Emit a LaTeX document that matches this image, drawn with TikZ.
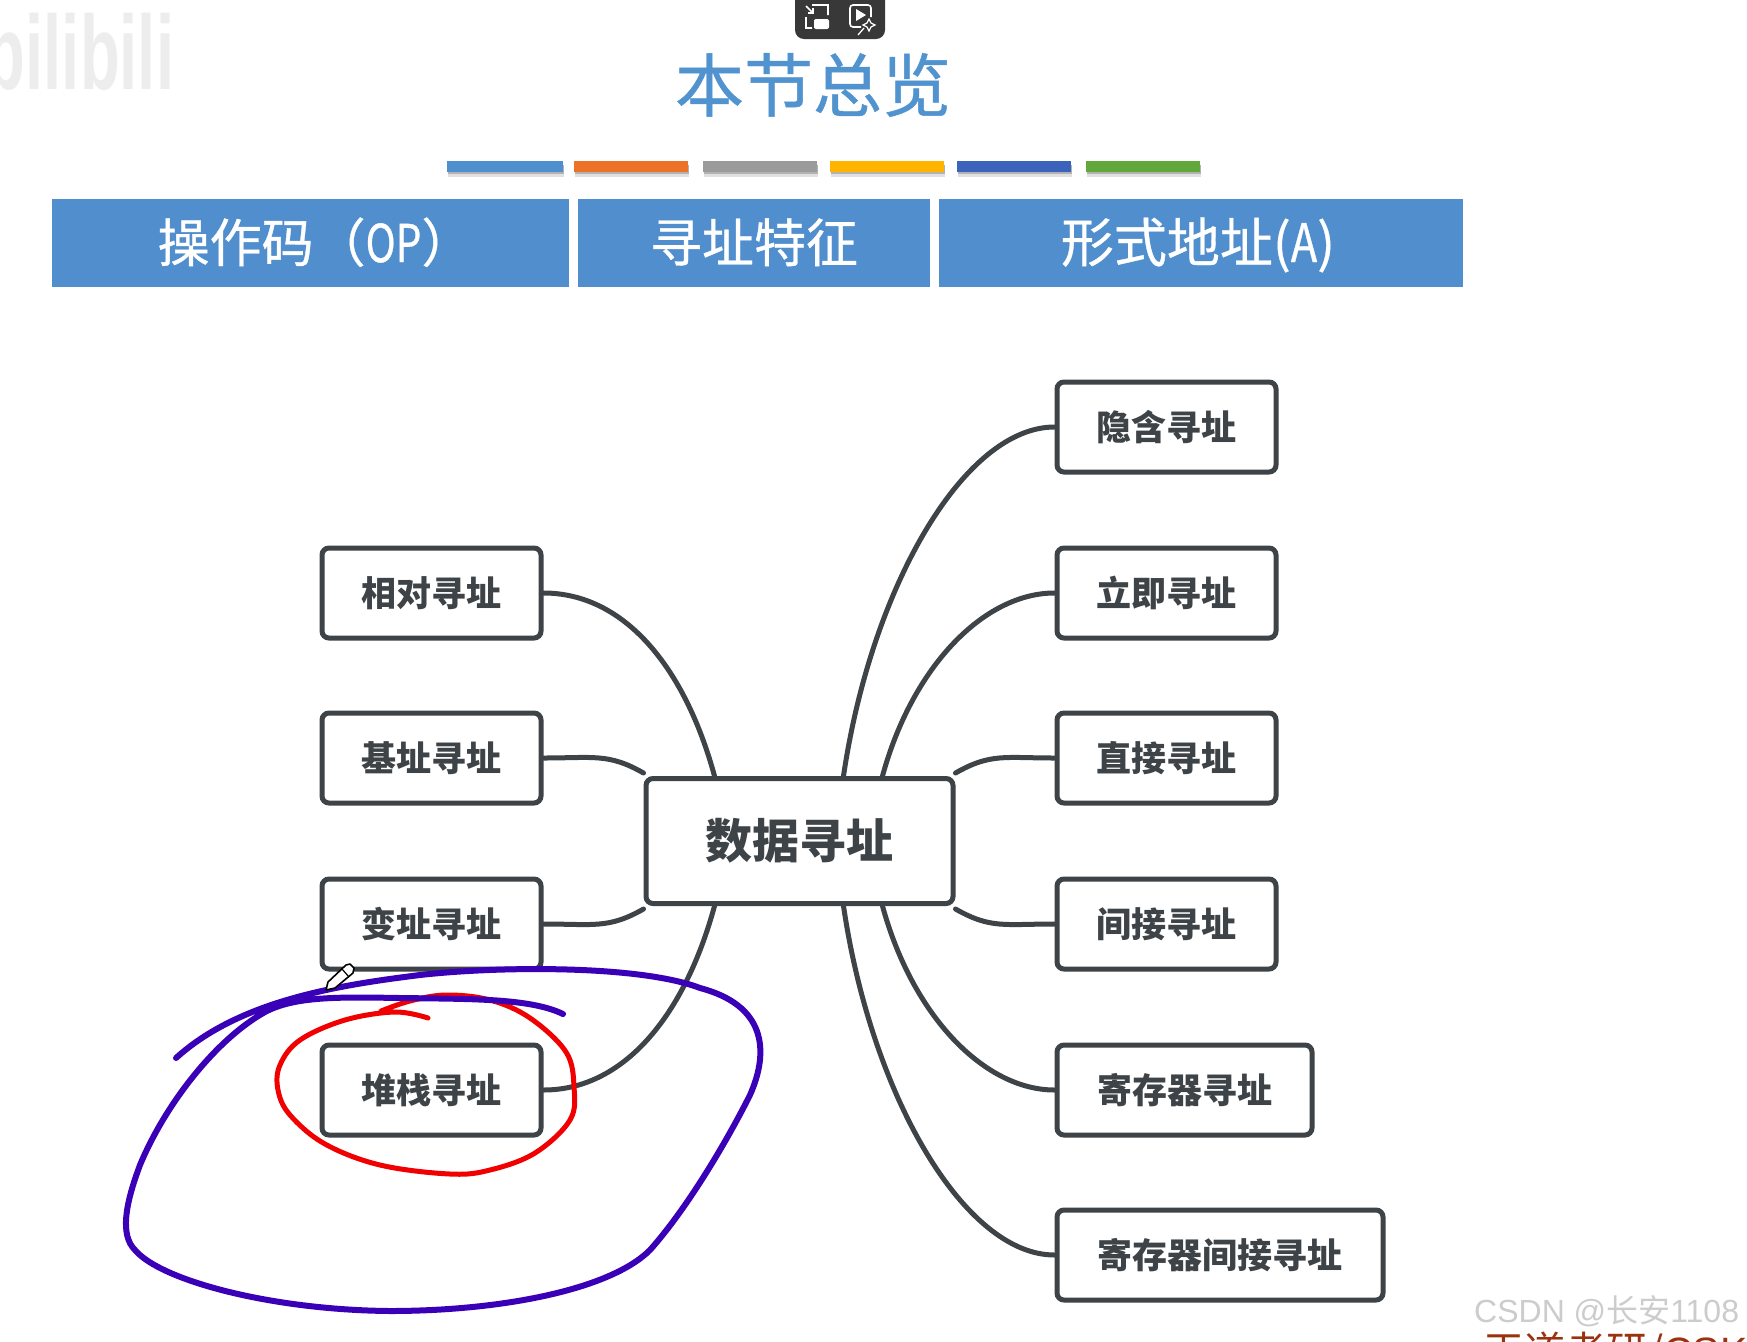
\documentclass[tikz,border=0pt]{standalone}
\usepackage{fontspec}
\setmainfont{Noto Sans CJK SC}
\newfontfamily\latinfont{Liberation Sans}
\newfontfamily\heavycjk[FakeBold=0.7]{Noto Sans CJK SC}
\usetikzlibrary{calc}
\definecolor{hdr}{HTML}{508ECD}
\definecolor{ttl}{HTML}{5193CE}
\definecolor{ink}{HTML}{3D4347}
\definecolor{pen}{HTML}{3A00B8}
\definecolor{redpen}{HTML}{F00000}
\definecolor{brownred}{HTML}{9A3210}
\newcommand{\fsz}[1]{\fontsize{#1}{#1}\selectfont}
\tikzset{
  mapbox/.style={draw=ink,line width=5pt,rounded corners=7pt,fill=white,text=ink,font=\fsz{35}\bfseries,minimum height=90pt,inner sep=0pt,anchor=center},
  hdrbox/.style={fill=hdr,text=white,font=\heavycjk\fsz{52},inner sep=0pt,anchor=center,minimum height=88pt,text height=44pt,text depth=6pt},
  link/.style={draw=ink,line width=5pt,line cap=round},
  barbox/.style={minimum height=11pt,inner sep=0pt,anchor=center,draw=none},
  handblue/.style={draw=pen,line width=6pt,line cap=round,line join=round},
  handred/.style={draw=redpen,line width=5pt,line cap=round,line join=round}
}
\begin{document}
\begin{tikzpicture}[x=1pt,y=-1pt]
\useasboundingbox (0,0) rectangle (1747,1341);
\clip (0,0) rectangle (1747,1341);
\fill[white] (0,0) rectangle (1747,1341);
% watermark
\node (bili) [text=black!7,inner sep=0pt,anchor=center,xscale=1.05,yscale=1.7,font=\latinfont\fsz{62}\bfseries] at (80,52) {bilibili};
% toolbar
\fill[fill=black!78,rounded corners=9pt] (795,-12) rectangle (885,39);
\draw[white,line width=1.6pt] (812,5)--(828,5)--(828,15) (806,17)--(806,28)--(812,28) (806,6)--(813,13) (813,8)--(813,13)--(808,13);
\fill[white,rounded corners=2pt] (814,19) rectangle (829,29);
\draw[white,line width=1.6pt,rounded corners=3pt] (861,27)--(850,27)--(850,5)--(871,5)--(871,17);
\fill[white] (856,9)--(856,21)--(866,15)--cycle;
\draw[white,line width=1.3pt] (869,19)--(871,23)--(875,25)--(871,27)--(869,31)--(867,27)--(863,25)--(867,23)--cycle (864,28)--(858,35);
% title
\node (title) [text=ttl,inner sep=0pt,font=\heavycjk\fsz{69},anchor=center] at (813,85) {本节总览};
% colour bars
\foreach \xa/\xb/\c/\n in {447/563/4F8FCF/a,574/688/ED7228/b,703/817/9B9B9B/c,830/944/FFB400/d,957/1071/3B63BC/e,1086/1200/62A73B/f}{
  \definecolor{barc}{HTML}{\c}
  \fill[black!12] (\xa+1,165) rectangle (\xb+1,177);
  \fill[black!30] (\xa+1,165) rectangle (\xb+1,174);
  \node (bar\n) [barbox,fill=barc,minimum width=\xb pt-\xa pt] at ({(\xa+\xb)/2},166) {};
}
% header
\node (op) [hdrbox,minimum width=517pt] at (310.5,243) {\hspace*{10pt}操作码（{\scalebox{0.78}[1]{OP}}）};
\node (feat) [hdrbox,minimum width=352pt] at (754,243) {寻址特征};
\node (addr) [hdrbox,font=\heavycjk\fsz{53},minimum width=524pt] at (1201,243) {\hspace*{-6pt}形式地址({\scalebox{0.82}[1]{A}})};
% boxes
\node (c) [mapbox,font=\fsz{47}\bfseries,minimum width=307pt,minimum height=125pt] at (799.5,841) {数据寻址};
\node (l1) [mapbox,minimum width=219pt] at (431.5,593) {相对寻址};
\node (l2) [mapbox,minimum width=219pt] at (431.5,758) {基址寻址};
\node (l3) [mapbox,minimum width=219pt] at (431.5,924) {变址寻址};
\node (l4) [mapbox,minimum width=219pt] at (431.5,1090) {堆栈寻址};
\node (r1) [mapbox,minimum width=219pt] at (1166.5,427) {隐含寻址};
\node (r2) [mapbox,minimum width=219pt] at (1166.5,593) {立即寻址};
\node (r3) [mapbox,minimum width=219pt] at (1166.5,758) {直接寻址};
\node (r4) [mapbox,minimum width=219pt] at (1166.5,924) {间接寻址};
\node (r5) [mapbox,minimum width=255pt] at (1184.5,1090) {寄存器寻址};
\node (r6) [mapbox,minimum width=326pt] at (1220,1255) {寄存器间接寻址};
% connectors
\draw[link] ([xshift=44pt]c.north) .. controls +(28,-190) and +(-90,0) .. (r1.west);
\draw[link] ([xshift=83pt]c.north) .. controls +(30,-110) and +(-70,0) .. (r2.west);
\draw[link] ([yshift=3pt]c.north east) .. controls +(35,-20) and +(-50,0) .. (r3.west);
\draw[link] ([yshift=-3pt]c.south east) .. controls +(35,20) and +(-50,0) .. (r4.west);
\draw[link] ([xshift=83pt]c.south) .. controls +(30,110) and +(-70,0) .. (r5.west);
\draw[link] ([xshift=44pt]c.south) .. controls +(28,190) and +(-90,0) .. (r6.west);
\draw[link] ([xshift=-85pt]c.north) .. controls +(-30,-110) and +(80,0) .. (l1.east);
\draw[link] ([yshift=3pt]c.north west) .. controls +(-35,-20) and +(50,0) .. (l2.east);
\draw[link] ([yshift=-3pt]c.south west) .. controls +(-35,20) and +(50,0) .. (l3.east);
\draw[link] ([xshift=-85pt]c.south) .. controls +(-30,110) and +(80,0) .. (l4.east);
% annotations
\draw[handred] plot[smooth,tension=0.6] coordinates {(381,1011)(410,1001)(446,995)(490,1000)(530,1018)(566,1052)(574,1087)(570,1120)(535,1153)(490,1170)(450,1174)(380,1165)(325,1144)(290,1115)(278,1090)(280,1065)(300,1040)(345,1020)(395,1012)(428,1018)};
\draw[handblue] (563,1014) .. controls (530,998) and (470,999) .. (400,998)
  .. controls (340,997) and (295,996) .. (265,1012)
  .. controls (215,1040) and (165,1105) .. (140,1165)
  .. controls (125,1205) and (120,1235) .. (135,1250)
  .. controls (160,1280) and (270,1310) .. (390,1311)
  .. controls (500,1311) and (610,1290) .. (650,1250)
  .. controls (690,1205) and (730,1135) .. (750,1095)
  .. controls (770,1050) and (765,1005) .. (700,988)
  .. controls (640,965) and (500,966) .. (420,975)
  .. controls (340,985) and (240,1000) .. (176,1058);
% pen cursor
\draw[black,line width=1.6pt,fill=white,line join=round] (326,990)--(328,982)--(346,965)--(350,964)--(354,968)--(353,973)--(335,988)--cycle;
\draw[black,line width=1.2pt] (342,969)--(349,977);
% bottom watermark
\node (wang) [text=brownred,inner sep=0pt,anchor=west,font=\fsz{41}] at (1483,1353) {王道考研/{\latinfont CSK}};
\node (csdn) [text=black!20,inner sep=0pt,anchor=west,font=\latinfont\fsz{32}] at (1474,1311) {CSDN @{\fontspec{Noto Sans CJK SC}长安}1108};
\end{tikzpicture}
\end{document}
